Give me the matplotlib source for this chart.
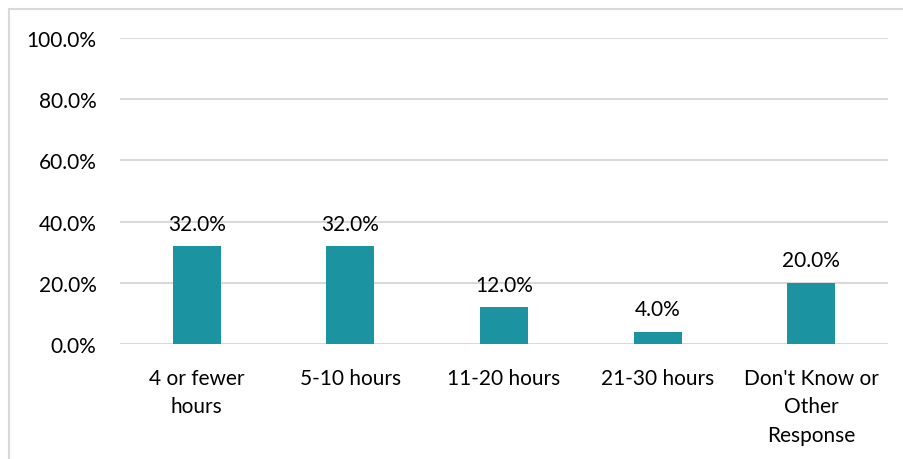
import matplotlib.pyplot as plt
from matplotlib.patches import Rectangle
from matplotlib.ticker import PercentFormatter

categories = ["4 or fewer\nhours", "5-10 hours", "11-20 hours", "21-30 hours",
              "Don't Know or\nOther\nResponse"]
shares = [32.0, 32.0, 12.0, 4.0, 20.0]

plt.rcParams['font.family'] = ['Lato', 'DejaVu Sans']

fig = plt.figure(figsize=(9.04, 4.6), dpi=100)
ax = fig.add_axes([120 / 904, 1 - 345 / 460, 768 / 904, 306 / 460])

# outer chart frame (runs off the right and bottom edges)
fig.patches.append(Rectangle((8.5 / 904, -0.05), 1.0, 1.05 - 9.5 / 460,
                             transform=fig.transFigure, fill=False,
                             edgecolor='#D9D9D9', linewidth=1.5))

x = range(len(categories))
bars = ax.bar(x, shares, width=0.3125, color='#1C93A0', zorder=3)
for b, v in zip(bars, shares):
    ax.annotate(f"{v:.1f}%", (b.get_x() + b.get_width() / 2, v),
                xytext=(0, 9), textcoords='offset points',
                ha='center', va='bottom', fontsize=15)

ax.set_xlim(-0.5, len(categories) - 0.5)
ax.set_ylim(0, 100)
ax.set_yticks(range(0, 101, 20))
ax.yaxis.set_major_formatter(PercentFormatter(decimals=1))
ax.set_xticks(list(x))
ax.set_xticklabels(categories, fontsize=15, linespacing=1.53)
ax.tick_params(axis='y', length=0, pad=17, labelsize=15)
ax.tick_params(axis='x', length=0, pad=17)
ax.grid(axis='y', color='#D9D9D9', linewidth=1.5, zorder=0)
for s in ax.spines.values():
    s.set_visible(False)

fig.savefig('out.png', dpi=100)
